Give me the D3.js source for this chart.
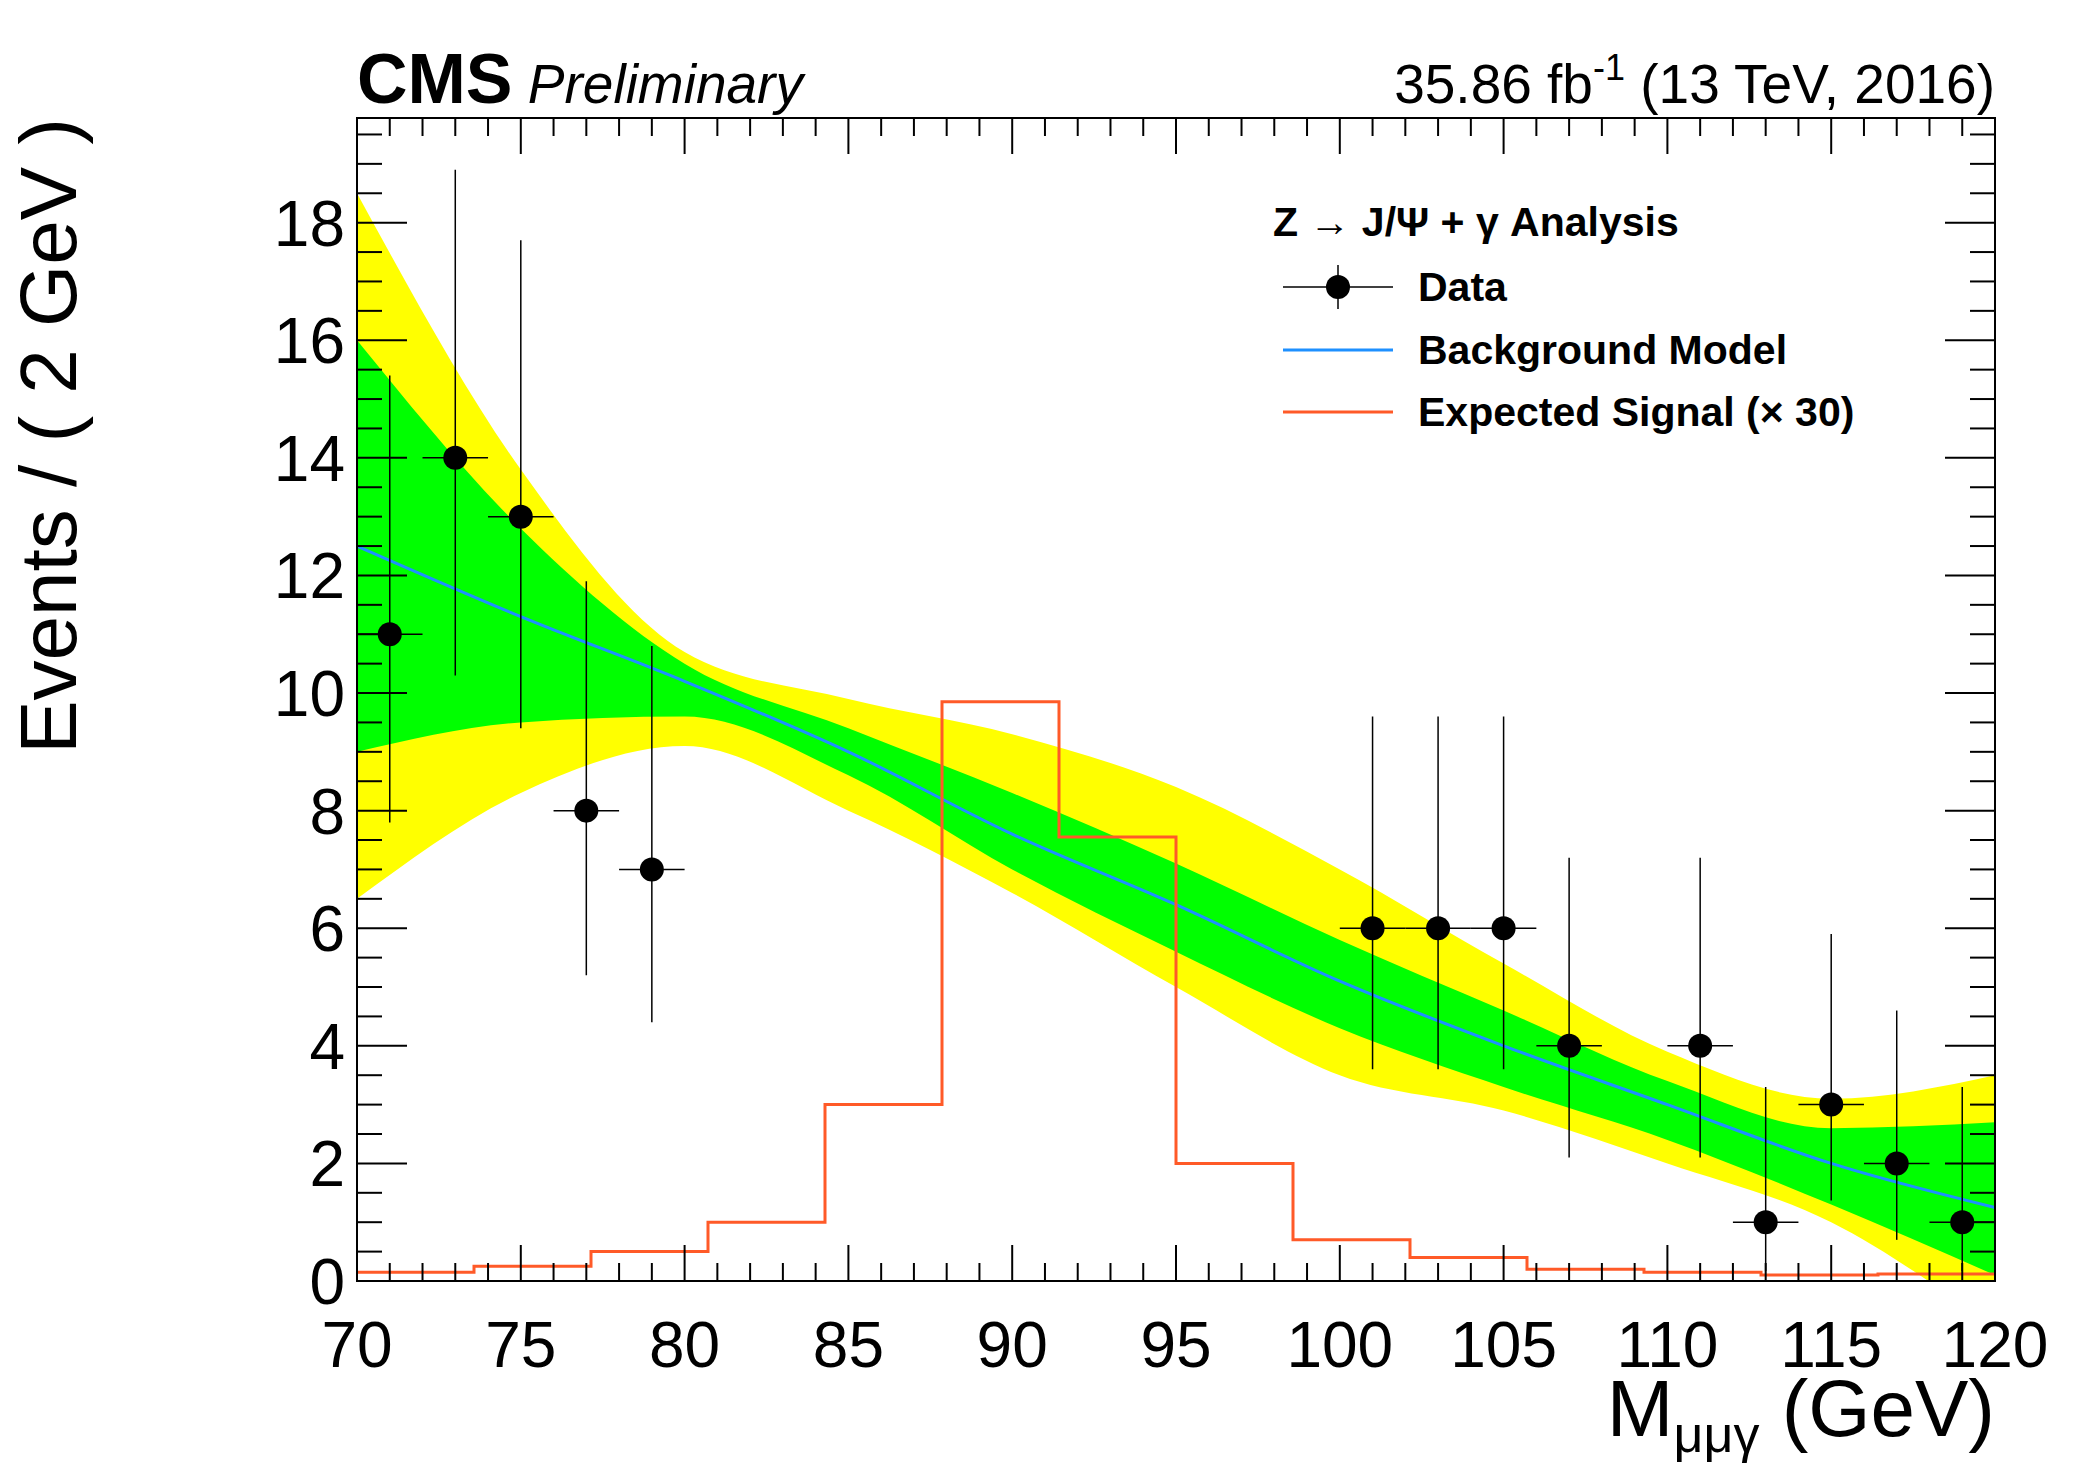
<!DOCTYPE html>
<html><head><meta charset="utf-8">
<script src="https://cdn.jsdelivr.net/npm/d3@7"></script>
<style>body{margin:0;background:#fff}svg{font-family:"Liberation Sans",Arial,sans-serif}</style>
</head><body>
<svg id="main-svg" width="2096" height="1472"></svg>
<script>
// data points (bin centres, 2 GeV bins), signal region blinded
const dataX = [71, 73, 75, 77, 79, 101, 103, 105, 107, 111, 113, 115, 117, 119];
const dataY = [11, 14, 13, 8, 7, 6, 6, 6, 4, 4, 1, 3, 2, 1];
const dataLo = [7.8, 10.3, 9.4, 5.2, 4.4, 3.6, 3.6, 3.6, 2.1, 2.1, 0.17, 1.37, 0.7, 0.17];
const dataHi = [15.4, 18.9, 17.7, 11.9, 10.8, 9.6, 9.6, 9.6, 7.2, 7.2, 3.3, 5.9, 4.6, 3.3];

// background model and uncertainty bands
const bandX = [70, 75, 80, 85, 90, 95, 100, 105, 110, 115, 120];
const bkg = [12.5, 11.3, 10.2, 9.0, 7.6, 6.4, 5.1, 4.0, 3.0, 2.0, 1.25];
const greenHi = [16.0, 12.8, 10.5, 9.4, 8.3, 7.1, 5.8, 4.6, 3.4, 2.6, 2.7];
const greenLo = [9.0, 9.5, 9.6, 8.6, 7.0, 5.6, 4.3, 3.3, 2.4, 1.3, 0.1];
const yellowHi = [18.5, 13.8, 10.7, 9.9, 9.3, 8.4, 7.0, 5.4, 3.9, 3.1, 3.5];
const yellowLo = [6.5, 8.3, 9.1, 8.0, 6.6, 5.0, 3.5, 2.9, 2.0, 1.0, -0.8];

// expected signal x30, 14 equal bins from 70 to 120
const sigVals = [0.15, 0.25, 0.5, 1.0, 3.0, 9.85, 7.55, 2.0, 0.7, 0.4, 0.2, 0.15, 0.1, 0.12];

const xTicks = [70, 75, 80, 85, 90, 95, 100, 105, 110, 115, 120];
const yTicks = [0, 2, 4, 6, 8, 10, 12, 14, 16, 18];

const L = 357, R = 1995, T = 118, B = 1281;
const x = d3.scaleLinear().domain([70, 120]).range([L, R]);
const y = d3.scaleLinear().domain([0, 19.78]).range([B, T]);
const svg = d3.select("#main-svg");

svg.append("clipPath").attr("id", "clip").append("rect")
  .attr("x", L).attr("y", T).attr("width", R - L).attr("height", B - T);
const plot = svg.append("g").attr("clip-path", "url(#clip)");

function band(hi, lo, col) {
  const a = d3.area().x((d, i) => x(bandX[i])).y0((d, i) => y(lo[i])).y1((d, i) => y(hi[i]))
    .curve(d3.curveMonotoneX);
  plot.append("path").attr("d", a(bandX)).attr("fill", col);
}
band(yellowHi, yellowLo, "#ffff00");
band(greenHi, greenLo, "#00ff00");
plot.append("path")
  .attr("d", d3.line().x((d, i) => x(bandX[i])).y(d => y(d)).curve(d3.curveMonotoneX)(bkg))
  .attr("fill", "none").attr("stroke", "#1e90ff").attr("stroke-width", 3);

// signal step histogram
const bw = 50 / sigVals.length;
const steps = [];
sigVals.forEach((v, i) => { steps.push([70 + i * bw, v], [70 + (i + 1) * bw, v]); });
plot.append("path")
  .attr("d", d3.line().x(d => x(d[0])).y(d => y(d[1]))(steps))
  .attr("fill", "none").attr("stroke", "#ff5a28").attr("stroke-width", 3);

// data points
dataX.forEach((cx, i) => {
  const g = plot.append("g").attr("stroke", "#000").attr("stroke-width", 1.5);
  g.append("line").attr("x1", x(cx)).attr("x2", x(cx)).attr("y1", y(dataLo[i])).attr("y2", y(dataHi[i]));
  g.append("line").attr("x1", x(cx - 1)).attr("x2", x(cx + 1)).attr("y1", y(dataY[i])).attr("y2", y(dataY[i]));
  g.append("circle").attr("cx", x(cx)).attr("cy", y(dataY[i])).attr("r", 12).attr("fill", "#000").attr("stroke", "none");
});

// frame and ticks
const ax = svg.append("g").attr("stroke", "#000").attr("stroke-width", 2);
ax.append("rect").attr("x", L).attr("y", T).attr("width", R - L).attr("height", B - T).attr("fill", "none");
d3.range(70, 120.01, 1).forEach(v => {
  const len = v % 5 === 0 ? 36 : 18;
  ax.append("line").attr("x1", x(v)).attr("x2", x(v)).attr("y1", B).attr("y2", B - len);
  ax.append("line").attr("x1", x(v)).attr("x2", x(v)).attr("y1", T).attr("y2", T + len);
});
d3.range(0, 19.6, 0.5).forEach(v => {
  const len = v % 2 === 0 ? 50 : 25;
  ax.append("line").attr("x1", L).attr("x2", L + len).attr("y1", y(v)).attr("y2", y(v));
  ax.append("line").attr("x1", R).attr("x2", R - len).attr("y1", y(v)).attr("y2", y(v));
});

svg.selectAll(".xt").data(xTicks).enter().append("text")
  .attr("x", d => x(d)).attr("y", 1367).attr("text-anchor", "middle")
  .attr("font-size", 64).text(d => d);
svg.selectAll(".yt").data(yTicks).enter().append("text")
  .attr("x", 345).attr("y", d => y(d) + 23).attr("text-anchor", "end")
  .attr("font-size", 64).text(d => d);

// axis titles
const xt = svg.append("text").attr("x", R).attr("y", 1436).attr("text-anchor", "end").attr("font-size", 80);
xt.append("tspan").text("M");
xt.append("tspan").attr("font-size", 52).attr("dy", 16).text("μμγ");
xt.append("tspan").attr("dy", -16).text(" (GeV)");
svg.append("text").attr("transform", `translate(76,${T}) rotate(-90)`).attr("text-anchor", "end")
  .attr("font-size", 80).text("Events / ( 2 GeV )");

// header
const h = svg.append("text").attr("x", L).attr("y", 103).attr("font-size", 70);
h.append("tspan").attr("font-weight", "bold").text("CMS");
h.append("tspan").attr("font-style", "italic").attr("font-size", 55).text(" Preliminary");
const lum = svg.append("text").attr("x", R).attr("y", 103).attr("text-anchor", "end").attr("font-size", 55);
lum.append("tspan").text("35.86 fb");
lum.append("tspan").attr("font-size", 36).attr("dy", -23).text("-1");
lum.append("tspan").attr("dy", 23).text(" (13 TeV, 2016)");

// legend
const lg = svg.append("g").attr("font-size", 41).attr("font-weight", "bold");
lg.append("text").attr("x", 1273).attr("y", 236).text("Z  → J/Ψ + γ Analysis");
const ly = [287, 350, 412];
const labels = ["Data", "Background Model", "Expected Signal (× 30)"];
const cols = ["#000", "#1e90ff", "#ff5a28"];
labels.forEach((t, i) => {
  lg.append("line").attr("x1", 1283).attr("x2", 1393).attr("y1", ly[i]).attr("y2", ly[i])
    .attr("stroke", cols[i]).attr("stroke-width", i ? 3 : 1.5);
  lg.append("text").attr("x", 1418).attr("y", ly[i] + 14).text(t);
});
lg.append("line").attr("x1", 1338).attr("x2", 1338).attr("y1", ly[0] - 22).attr("y2", ly[0] + 22).attr("stroke", "#000").attr("stroke-width", 1.5);
lg.append("circle").attr("cx", 1338).attr("cy", ly[0]).attr("r", 12).attr("fill", "#000");
</script>
</body></html>
